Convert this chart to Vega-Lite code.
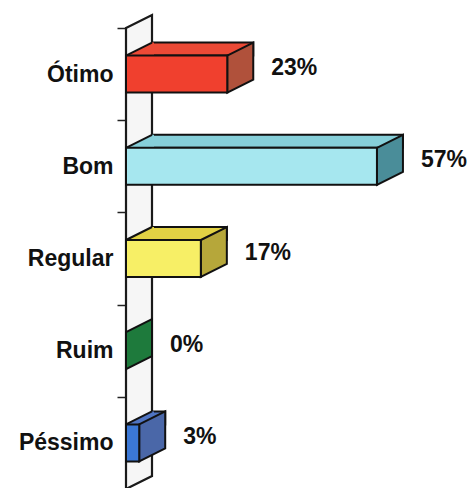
{
  "$schema": "https://vega.github.io/schema/vega-lite/v6.json",
  "width": 350,
  "height": 461,
  "autosize": {"type": "none"},
  "padding": {"left": 126, "top": 28, "right": 0, "bottom": 0},
  "background": "white",
  "config": {"view": {"stroke": null}, "font": "Liberation Sans"},
  "data": {
    "values": [
      {"cat": "Ótimo", "v": 0.23},
      {"cat": "Bom", "v": 0.57},
      {"cat": "Regular", "v": 0.17},
      {"cat": "Ruim", "v": 0.0},
      {"cat": "Péssimo", "v": 0.03}
    ]
  },
  "encoding": {
    "y": {
      "field": "cat",
      "type": "nominal",
      "sort": null,
      "scale": {"domain": ["Ótimo", "Bom", "Regular", "Ruim", "Péssimo"], "paddingInner": 0, "paddingOuter": 0},
      "axis": {
        "title": null,
        "tickBand": "extent",
        "tickSize": 9,
        "tickWidth": 1.5,
        "tickColor": "#222222",
        "domainColor": "#111111",
        "domainWidth": 2,
        "labelFont": "Liberation Sans",
        "labelFontSize": 23,
        "labelFontWeight": "bold",
        "labelColor": "#111111",
        "labelPadding": 4
      }
    }
  },
  "layer": [
    {
      "transform": [{"filter": {"field": "cat", "equal": "Regular"}}],
      "mark": {
        "type": "point",
        "shape": "M0,-230.5 L26,-243.5 L26,217.5 L0,230.5 Z",
        "size": 4,
        "filled": true,
        "fill": "#f6f6f6",
        "stroke": "#1a1a1a",
        "strokeWidth": 2.2,
        "opacity": 1
      },
      "encoding": {"x": {"datum": 0, "type": "quantitative", "scale": {"domain": [0, 0.795], "nice": false}, "axis": null}}
    },
    {
      "mark": {"type": "bar", "size": 13, "xOffset": 26, "x2Offset": 26, "yOffset": -25, "stroke": "#111111", "strokeWidth": 2},
      "encoding": {
        "x": {"field": "v", "type": "quantitative", "scale": {"domain": [0, 0.795], "nice": false}, "axis": null},
        "color": {"field": "cat", "type": "nominal", "legend": null,
          "scale": {"domain": ["Ótimo", "Bom", "Regular", "Ruim", "Péssimo"], "range": ["#ec4a36", "#86cfd9", "#e2d244", "#1e7a3c", "#4f74c2"]}}
      }
    },
    {
      "transform": [{"filter": "datum.v > 0"}],
      "mark": {"type": "point", "shape": "M0,-18.5 L26,-31.5 L28,-31.5 L28,-18.5 Z", "size": 4, "filled": true, "strokeWidth": 0, "opacity": 1},
      "encoding": {
        "x": {"datum": 0, "type": "quantitative"},
        "color": {"field": "cat", "type": "nominal", "legend": null,
          "scale": {"domain": ["Ótimo", "Bom", "Regular", "Ruim", "Péssimo"], "range": ["#ec4a36", "#86cfd9", "#e2d244", "#1e7a3c", "#4f74c2"]}}
      }
    },
    {
      "transform": [{"filter": "datum.v > 0"}],
      "mark": {"type": "point", "shape": "M0,-18.5 L26,-31.5", "size": 4, "filled": false, "fill": null, "stroke": "#111111", "strokeWidth": 2, "opacity": 1},
      "encoding": {"x": {"datum": 0, "type": "quantitative"}}
    },
    {
      "mark": {"type": "point", "shape": "M0,-18.5 L26,-31.5 L26,5.5 L0,18.5 Z", "size": 4, "filled": true, "stroke": "#111111", "strokeWidth": 2, "opacity": 1},
      "encoding": {
        "x": {"field": "v", "type": "quantitative"},
        "color": {"field": "cat", "type": "nominal", "legend": null,
          "scale": {"domain": ["Ótimo", "Bom", "Regular", "Ruim", "Péssimo"], "range": ["#b0513b", "#4a8d99", "#b6a73a", "#1e7a3c", "#4a67a8"]}}
      }
    },
    {
      "mark": {"type": "bar", "size": 37, "stroke": "#111111", "strokeWidth": 2},
      "encoding": {
        "x": {"field": "v", "type": "quantitative"},
        "color": {"field": "cat", "type": "nominal", "legend": null,
          "scale": {"domain": ["Ótimo", "Bom", "Regular", "Ruim", "Péssimo"], "range": ["#f0402e", "#a6e7ef", "#f7ef66", "#1e7a3c", "#3b78d6"]}}
      }
    },
    {
      "mark": {"type": "text", "align": "left", "baseline": "middle", "dx": 44, "dy": -6, "font": "Liberation Sans", "fontSize": 23, "fontWeight": "bold", "color": "#111111"},
      "encoding": {
        "x": {"field": "v", "type": "quantitative"},
        "text": {"field": "v", "type": "quantitative", "format": ".0%"}
      }
    }
  ],
  "resolve": {"scale": {"color": "independent"}}
}
